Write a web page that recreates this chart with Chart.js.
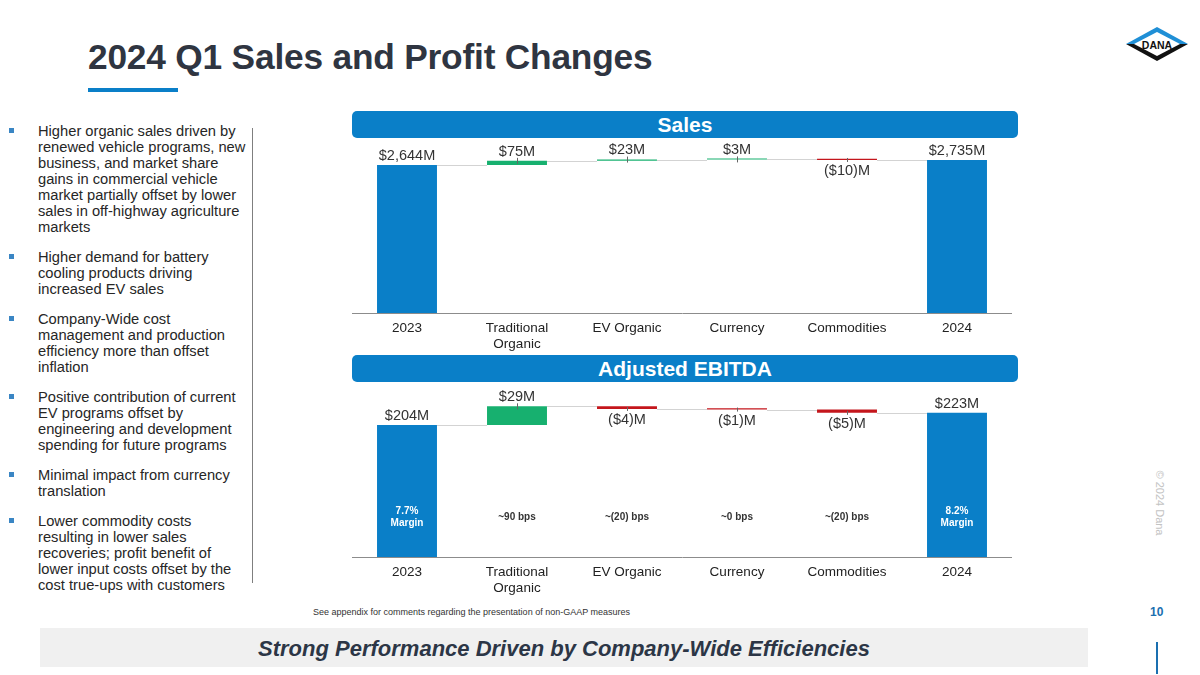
<!DOCTYPE html>
<html>
<head>
<meta charset="utf-8">
<script src="https://cdn.jsdelivr.net/npm/chart.js@4"></script>
<style>
  html,body{margin:0;padding:0;background:#fff;}
  body{width:1200px;height:675px;position:relative;overflow:hidden;font-family:"Liberation Sans",Arial,sans-serif;}
  .abs{position:absolute;}
  #title{left:88px;top:37px;font-size:35.3px;font-weight:bold;color:#2f3541;letter-spacing:-0.2px;white-space:nowrap;}
  #uline{left:88px;top:88px;width:90px;height:4px;background:#0a7fc8;}
  .hdr{left:352px;width:666px;height:27px;background:#0a7fc8;border-radius:5px;color:#fff;font-weight:bold;font-size:21px;text-align:center;line-height:28px;}
  #bullets{left:8px;top:123px;width:238px;font-size:14.7px;line-height:16px;color:#262626;}
  #bullets .b{position:relative;padding-left:30px;margin-bottom:14px;}
  #bullets .b:before{content:"";position:absolute;left:1px;top:5px;width:5px;height:5px;background:#3a86c4;}
  #vline{left:252px;top:128px;width:1px;height:455px;background:#7f7f7f;}
  #foot{left:313px;top:607px;font-size:9px;color:#333;}
  #pg{left:1150px;top:605px;font-size:12px;font-weight:bold;color:#1a6fb0;}
  #band{left:40px;top:628px;width:1048px;height:39px;background:#f0f0f0;}
  #band span{display:block;text-align:center;font-size:22px;font-weight:bold;font-style:italic;color:#2c3646;line-height:41px;}
  #bline{left:1156px;top:642px;width:2px;height:32px;background:#1a6fb0;}
  #copy{left:1115px;top:497px;width:90px;font-size:11px;color:#c3c3c3;transform:rotate(90deg);text-align:center;}
  canvas{position:absolute;}
</style>
</head>
<body>
<div id="title" class="abs">2024 Q1 Sales and Profit Changes</div>
<div id="uline" class="abs"></div>

<svg class="abs" style="left:1125px;top:26px" width="64" height="36" viewBox="0 0 64 36">
  <polygon points="32,1 63,18 1,18" fill="#1f8fd6"/>
  <polygon points="1,18 63,18 32,35" fill="#111"/>
  <polygon points="32,6 55,18 32,30 9,18" fill="#fff"/>
  <text x="32" y="22.5" font-family="Liberation Sans, Arial" font-weight="bold" font-size="10.5" text-anchor="middle" fill="#111">DANA</text>
</svg>

<div class="abs hdr" style="top:111px">Sales</div>
<div class="abs hdr" style="top:355px">Adjusted EBITDA</div>

<div id="bullets" class="abs">
  <div class="b">Higher organic sales driven by renewed vehicle programs, new business, and market share gains in commercial vehicle market partially offset by lower sales in off-highway agriculture markets</div>
  <div class="b">Higher demand for battery cooling products driving increased EV sales</div>
  <div class="b">Company-Wide cost management and production efficiency more than offset inflation</div>
  <div class="b">Positive contribution of current EV programs offset by engineering and development spending for future programs</div>
  <div class="b">Minimal impact from currency translation</div>
  <div class="b">Lower commodity costs resulting in lower sales recoveries; profit benefit of lower input costs offset by the cost true-ups with customers</div>
</div>
<div id="vline" class="abs"></div>

<canvas id="sales" style="left:352px;top:130px" width="660" height="225"></canvas>
<canvas id="ebitda" style="left:352px;top:375px" width="660" height="224"></canvas>

<div id="foot" class="abs">See appendix for comments regarding the presentation of non-GAAP measures</div>
<div id="pg" class="abs">10</div>
<div id="band" class="abs"><span>Strong Performance Driven by Company-Wide Efficiencies</span></div>
<div id="bline" class="abs"></div>
<div id="copy" class="abs">© 2024 Dana</div>

<script>
// ---- data ----
const categories = ['2023', ['Traditional', 'Organic'], 'EV Organic', 'Currency', 'Commodities', '2024'];
// first and last are totals, the middle ones are changes
const salesValues = [2644, 75, 23, 3, -10, 2735];
const salesLabels = ['$2,644M', '$75M', '$23M', '$3M', '($10)M', '$2,735M'];
const ebitdaValues = [204, 29, -4, -1, -5, 223];
const ebitdaLabels = ['$204M', '$29M', '($4)M', '($1)M', '($5)M', '$223M'];
const marginNotes = [['7.7%', 'Margin'], ['~90 bps'], ['~(20) bps'], ['~0 bps'], ['~(20) bps'], ['8.2%', 'Margin']];
const salesMax = 3092;
const ebitdaMax = 266;

const BLUE = '#0a7fc8', GREEN = '#17b06f', RED = '#c4161c';
const FONT = '"Liberation Sans", Arial, sans-serif';

function floating(values) {
  const out = []; let cum = 0;
  values.forEach((v, i) => {
    if (i === 0 || i === values.length - 1) { out.push([0, v]); cum = v; }
    else { out.push([cum, cum + v]); cum += v; }
  });
  return out;
}
function colors(values) {
  return values.map((v, i) => (i === 0 || i === values.length - 1) ? BLUE : (v >= 0 ? GREEN : RED));
}

const wfPlugin = {
  id: 'wf',
  afterDatasetsDraw(chart, args, opts) {
    const ctx = chart.ctx;
    const meta = chart.getDatasetMeta(0);
    const data = chart.data.datasets[0].data;
    const vals = opts.values;
    const y = chart.scales.y;
    ctx.save();
    // connectors
    ctx.strokeStyle = '#d3d3d3'; ctx.lineWidth = 1;
    for (let i = 0; i < data.length - 1; i++) {
      const a = meta.data[i], b = meta.data[i + 1];
      const level = data[i][1];
      const py = Math.round(y.getPixelForValue(level)) + 0.5;
      ctx.beginPath();
      ctx.moveTo(a.x + a.width / 2, py);
      ctx.lineTo(b.x - b.width / 2, py);
      ctx.stroke();
    }
    // small leader ticks on changes
    ctx.strokeStyle = '#666';
    for (let i = 1; i < data.length - 1; i++) {
      const el = meta.data[i];
      const top = y.getPixelForValue(Math.max(data[i][0], data[i][1]));
      const bot = y.getPixelForValue(Math.min(data[i][0], data[i][1]));
      const x = Math.round(el.x) + 0.5;
      ctx.beginPath();
      if (vals[i] >= 0) { ctx.moveTo(x, top - 3); ctx.lineTo(x, top + 3); }
      else { ctx.moveTo(x, bot - 2); ctx.lineTo(x, bot + 2); }
      ctx.stroke();
    }
    // value labels
    ctx.font = '14.5px ' + FONT; ctx.fillStyle = '#333'; ctx.textAlign = 'center';
    for (let i = 0; i < data.length; i++) {
      const el = meta.data[i];
      const top = y.getPixelForValue(Math.max(data[i][0], data[i][1]));
      const bot = y.getPixelForValue(Math.min(data[i][0], data[i][1]));
      if (vals[i] >= 0) { ctx.textBaseline = 'bottom'; ctx.fillText(opts.labels[i], el.x, top - 2); }
      else { ctx.textBaseline = 'top'; ctx.fillText(opts.labels[i], el.x, bot + 4); }
    }
    // margin notes
    if (opts.notes) {
      ctx.font = 'bold 10px ' + FONT; ctx.textBaseline = 'middle';
      const base = chart.chartArea.bottom - 40;
      opts.notes.forEach((n, i) => {
        const el = meta.data[i];
        ctx.fillStyle = (i === 0 || i === data.length - 1) ? '#fff' : '#333';
        if (n.length === 1) ctx.fillText(n[0], el.x, base);
        else { ctx.fillText(n[0], el.x, base - 6); ctx.fillText(n[1], el.x, base + 6); }
      });
    }
    ctx.restore();
  }
};

function makeChart(id, values, labels, max, notes) {
  return new Chart(document.getElementById(id), {
    type: 'bar',
    data: {
      labels: categories,
      datasets: [{ data: floating(values), backgroundColor: colors(values), borderWidth: 0,
        barPercentage: 0.545, categoryPercentage: 1.0, borderSkipped: false, minBarLength: 1.2 }]
    },
    options: {
      responsive: false, animation: false,
      layout: { padding: { top: 10, left: 0, right: 0, bottom: 0 } },
      plugins: { legend: { display: false }, tooltip: { enabled: false },
        wf: { values, labels, notes } },
      scales: {
        x: {
          grid: { display: false, drawTicks: false },
          border: { display: true, color: '#8c8c8c', width: 1 },
          ticks: { color: '#222', font: { family: FONT, size: 13.5 }, padding: 7, maxRotation: 0 },
          afterFit: s => { s.height = 42; }
        },
        y: { display: false, min: 0, max: max }
      }
    },
    plugins: [wfPlugin]
  });
}

makeChart('sales', salesValues, salesLabels, salesMax, null);
makeChart('ebitda', ebitdaValues, ebitdaLabels, ebitdaMax, marginNotes);
</script>
</body>
</html>
